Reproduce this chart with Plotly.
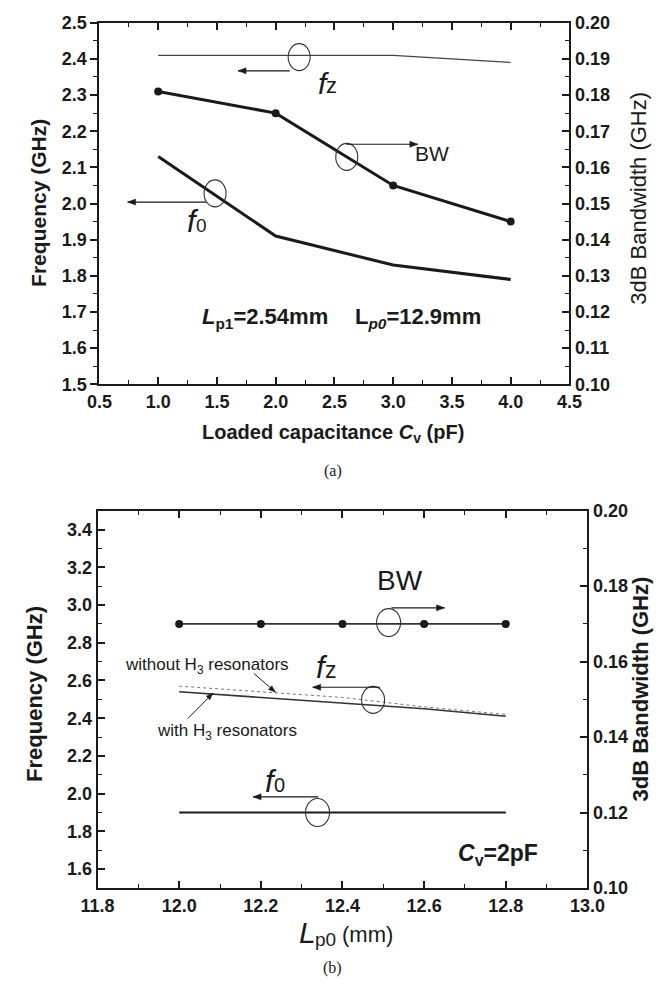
import math
import plotly.graph_objects as go

# ---- panel (a): sweep of loaded capacitance ----
cv_pf = [1.0, 2.0, 3.0, 4.0]
fz_a = [2.41, 2.41, 2.41, 2.39]
f0_a = [2.13, 1.91, 1.83, 1.79]
bw_a = [0.181, 0.175, 0.155, 0.145]

# ---- panel (b): sweep of Lp0 ----
lp0_mm = [12.0, 12.2, 12.4, 12.6, 12.8]
bw_b = [0.17, 0.17, 0.17, 0.17, 0.17]
f0_b = [1.90, 1.90, 1.90, 1.90, 1.90]
fz_with_h3 = [2.54, 2.51, 2.48, 2.45, 2.41]
fz_without_h3 = [2.57, 2.54, 2.51, 2.46, 2.42]

SANS = "Liberation Sans, Arial, sans-serif"
SERIF = "Liberation Serif, Times New Roman, serif"
INK = "#1a1a1a"

W, H = 667, 994
# plot-area boxes in pixels (left, right, top, bottom)
BOX_A = (87, 583, 13, 382)
BOX_B = (85, 602, 511, 896)
RANGE_AX, RANGE_AY = (0.5, 4.5), (1.5, 2.5)
RANGE_BX, RANGE_BY = (11.8, 13.0), (1.5, 3.5)


def dom(box):
    l, r, t, b = box
    return [l / W, r / W], [1 - b / H, 1 - t / H]


def scale(box, rx, ry):
    l, r, t, b = box
    return (r - l) / (rx[1] - rx[0]), (b - t) / (ry[1] - ry[0])


SCALE_A = scale(BOX_A, RANGE_AX, RANGE_AY)
SCALE_B = scale(BOX_B, RANGE_BX, RANGE_BY)

fig = go.Figure()

# panel (a) traces
fig.add_trace(go.Scatter(x=cv_pf, y=fz_a, mode="lines", line=dict(color="#444", width=1.2),
                         xaxis="x", yaxis="y"))
fig.add_trace(go.Scatter(x=cv_pf, y=f0_a, mode="lines", line=dict(color=INK, width=3),
                         xaxis="x", yaxis="y"))
fig.add_trace(go.Scatter(x=cv_pf, y=bw_a, mode="lines+markers", line=dict(color=INK, width=3),
                         marker=dict(size=8, color=INK), xaxis="x", yaxis="y2"))

# panel (b) traces
fig.add_trace(go.Scatter(x=lp0_mm, y=bw_b, mode="lines+markers", line=dict(color="#333", width=1.6),
                         marker=dict(size=8, color=INK), xaxis="x2", yaxis="y4"))
fig.add_trace(go.Scatter(x=lp0_mm, y=f0_b, mode="lines", line=dict(color=INK, width=2),
                         xaxis="x2", yaxis="y3"))
fig.add_trace(go.Scatter(x=lp0_mm, y=fz_without_h3, mode="lines", line=dict(color="#777", width=1, dash="dot"),
                         xaxis="x2", yaxis="y3"))
fig.add_trace(go.Scatter(x=lp0_mm, y=fz_with_h3, mode="lines", line=dict(color="#333", width=1.6),
                         xaxis="x2", yaxis="y3"))

tickfont = dict(family=SANS, size=18, color=INK, weight="bold")


def axis(rng, dtick, minor_dtick, ticks, fmt, **kw):
    d = dict(range=list(rng), dtick=dtick, ticks=ticks, ticklen=7, tickwidth=1.6, tickcolor=INK,
             showline=True, linewidth=2, linecolor=INK, showgrid=False, zeroline=False,
             tickformat=fmt, tickfont=tickfont,
             minor=dict(dtick=minor_dtick, ticks=ticks, ticklen=4, tickwidth=1.4, tickcolor=INK))
    d.update(kw)
    return d


dax, day = dom(BOX_A)
dbx, dby = dom(BOX_B)

fig.update_layout(
    width=W, height=H, margin=dict(l=0, r=0, t=0, b=0),
    paper_bgcolor="white", plot_bgcolor="white", showlegend=False,
    xaxis=axis(RANGE_AX, 0.5, 0.25, "inside", ".1f", domain=dax, anchor="y", mirror="ticks"),
    yaxis=axis(RANGE_AY, 0.1, 0.05, "outside", ".1f", domain=day, anchor="x"),
    yaxis2=axis((0.10, 0.20), 0.01, 0.005, "inside", ".2f", overlaying="y", side="right", anchor="x"),
    xaxis2=axis(RANGE_BX, 0.2, 0.1, "inside", ".1f", domain=dbx, anchor="y3", mirror="ticks"),
    yaxis3=axis(RANGE_BY, 0.2, 0.1, "inside", ".1f", domain=dby, anchor="x2", tick0=1.6),
    yaxis4=axis((0.10, 0.20), 0.02, 0.01, "inside", ".2f", overlaying="y3", side="right", anchor="x2"),
)

ann = []


def text(x, y, s, size, xref="paper", yref="paper", weight="normal", xanchor="center",
         family=SANS, angle=0):
    ann.append(dict(x=x, y=y, xref=xref, yref=yref, text=s, showarrow=False, xanchor=xanchor,
                    yanchor="middle", textangle=angle,
                    font=dict(family=family, size=size, color=INK, weight=weight)))


def ptext(px, py, s, size, **kw):
    """Text placed by pixel position on the page."""
    text(px / W, 1 - py / H, s, size, **kw)


def arrow(x_head, y_head, x_tail, y_tail, xref, yref, sc, width=1.1, length=8, half=3):
    fig.add_shape(type="line", xref=xref, yref=yref, x0=x_tail, y0=y_tail, x1=x_head, y1=y_head,
                  line=dict(color=INK, width=width))
    dx = (x_head - x_tail) * sc[0]
    dy = (y_head - y_tail) * sc[1]
    n = math.hypot(dx, dy)
    ux, uy = dx / n, dy / n
    bx, by = -length * ux, -length * uy
    px_, py_ = -uy * half, ux * half
    path = (f"M 0,0 L {bx + px_:.2f},{by + py_:.2f} "
            f"L {bx - px_:.2f},{by - py_:.2f} Z")
    fig.add_shape(type="path", xref=xref, yref=yref, xsizemode="pixel", ysizemode="pixel",
                  xanchor=x_head, yanchor=y_head, path=path,
                  fillcolor=INK, line=dict(color=INK, width=0.5))


def ring(x, y, xref, yref, w=22, h=27):
    fig.add_shape(type="circle", xref=xref, yref=yref, xsizemode="pixel", ysizemode="pixel",
                  xanchor=x, yanchor=y, x0=-w / 2, x1=w / 2, y0=-h / 2, y1=h / 2,
                  line=dict(color="#333", width=1.1))


def fsym(px, baseline, sub, fsize=30, ssize=21):
    """Italic f followed by a plain index character, sharing one baseline."""
    ann.append(dict(x=(px + 1) / W, y=1 - (baseline - 0.35 * fsize) / H, xref="paper", yref="paper",
                    text="<i>f</i>", showarrow=False, xanchor="right", yanchor="middle",
                    font=dict(family=SANS, size=fsize, color=INK)))
    ann.append(dict(x=(px - 6) / W, y=1 - (baseline - 0.35 * ssize) / H, xref="paper", yref="paper",
                    text=sub, showarrow=False, xanchor="left", yanchor="middle",
                    font=dict(family=SANS, size=ssize, color=INK)))


# panel (a) labels
ring(2.20, 2.405, "x", "y")
arrow(1.68, 2.367, 2.12, 2.367, "x", "y", SCALE_A)
fsym(330, 85, "z", 30, 22)

ring(1.484, 2.028, "x", "y")
arrow(0.74, 2.004, 1.41, 2.004, "x", "y", SCALE_A)
fsym(193, 227, "0", 31, 19)

ring(2.605, 2.129, "x", "y")
arrow(3.21, 2.164, 2.60, 2.164, "x", "y", SCALE_A)
text(3.33, 2.137, "BW", 21, "x", "y")

text(1.355, 1.684, "<i>L</i><sub>p1</sub>=2.54mm", 22, "x", "y", weight="bold", xanchor="left")
text(2.661, 1.684, "L<sub><i>p0</i></sub>=12.9mm", 22, "x", "y", weight="bold", xanchor="left")

# panel (b) labels
text(12.54, 3.13, "BW", 28, "x2", "y3")
ring(12.513, 2.907, "x2", "y3", 24, 28)
arrow(12.65, 2.985, 12.52, 2.985, "x2", "y3", SCALE_B)

fsym(329, 682, "z", 31, 23)
ring(12.475, 2.497, "x2", "y3", 23, 27)
arrow(12.327, 2.564, 12.492, 2.564, "x2", "y3", SCALE_B)

fsym(275, 798, "0", 31, 20)
ring(12.339, 1.90, "x2", "y3", 24, 28)
arrow(12.181, 1.983, 12.341, 1.983, "x2", "y3", SCALE_B)

text(12.067, 2.679, "without H<sub>3</sub> resonators", 17, "x2", "y3")
arrow(12.236, 2.538, 12.183, 2.637, "x2", "y3", SCALE_B, width=1, length=7, half=2.5)
text(12.118, 2.326, "with H<sub>3</sub> resonators", 17, "x2", "y3")
arrow(12.083, 2.533, 12.021, 2.398, "x2", "y3", SCALE_B, width=1, length=7, half=2.5)

text(12.677, 1.677, "<i>C</i><sub>v</sub>=2pF", 23, "x2", "y3", weight="bold", xanchor="left")

# axis titles and captions
ptext(22, 197, "Frequency (GHz)", 21, weight="bold", angle=-90)
ptext(656, 192, "3dB Bandwidth (GHz)", 22, angle=-90)
ptext(334, 432, "Loaded capacitance <i>C</i><sub>v</sub> (pF)", 20, weight="bold")
ptext(333, 470, "(a)", 16, family=SERIF)

ptext(19, 698, "Frequency (GHz)", 22, weight="bold", angle=-90)
ptext(658, 693, "3dB Bandwidth (GHz)", 22, weight="bold", angle=-90)
ptext(318, 941.5, "<i>L</i>", 30, xanchor="right")
ptext(312, 949, "p0", 19, xanchor="left")
ptext(341, 943, "(mm)", 22, xanchor="left")
ptext(333, 978, "(b)", 16, family=SERIF)

fig.update_layout(annotations=ann)
fig.write_html("out.html")
